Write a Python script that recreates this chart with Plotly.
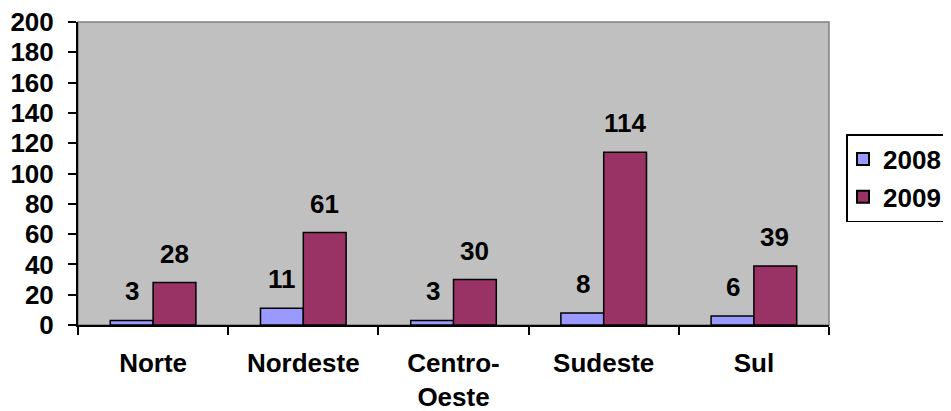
import plotly.graph_objects as go

regions = ["Norte", "Nordeste", "Centro-<br>Oeste", "Sudeste", "Sul"]
values_2008 = [3, 11, 3, 8, 6]
values_2009 = [28, 61, 30, 114, 39]
y_ticks = list(range(0, 201, 20))

FONT = dict(family="Liberation Sans, Arial, sans-serif", size=26, color="black", weight="bold")

fig = go.Figure()
fig.add_trace(go.Bar(x=regions, y=values_2008, name="2008", legendgroup="a",
                     marker=dict(color="#9999FF", line=dict(color="black", width=1.5))))
fig.add_trace(go.Bar(x=regions, y=values_2009, name="2009", legendgroup="b",
                     marker=dict(color="#993366", line=dict(color="black", width=1.5))))

# value labels sit a little above each bar
for series, shift in ((values_2008, -21), (values_2009, 21)):
    for cat, val in zip(regions, series):
        fig.add_annotation(x=cat, y=val, xref="x", yref="y", text=str(val), showarrow=False,
                           xshift=shift, yshift=12, yanchor="bottom", font=FONT)

# grey frame on top/right of the plot area
fig.add_shape(type="rect", xref="paper", yref="paper", x0=0, y0=0, x1=1, y1=1,
              line=dict(color="#808080", width=1.5), layer="below")

# page body has an 8px margin, so the figure is 8px smaller than the window
fig.update_layout(
    width=943, height=403,
    margin=dict(l=70, r=122, t=14, b=86, autoexpand=False),
    paper_bgcolor="white", plot_bgcolor="#C0C0C0",
    barmode="group", bargap=0.43, bargroupgap=0,
    font=FONT,
    showlegend=True,
    legend=dict(x=1.0233, y=0.63, xanchor="left", yanchor="top", bordercolor="black", borderwidth=1.5,
                bgcolor="white", font=FONT, tracegroupgap=1, itemsizing="constant", indentation=-5),
)
fig.update_yaxes(range=[0, 200], tickvals=y_ticks, showgrid=False, zeroline=False, automargin=False,
                 showline=True, linecolor="black", linewidth=2, ticks="outside", ticklen=8,
                 tickwidth=2, tickcolor="black", ticklabelstandoff=9, ticklabeloverflow="allow")
fig.update_xaxes(showgrid=False, showline=True, linecolor="black", linewidth=2, automargin=False,
                 ticks="outside", ticklen=8, tickwidth=2, tickcolor="black",
                 tickson="boundaries", ticklabelstandoff=14, ticklabeloverflow="allow")

fig.write_html("out.html")
